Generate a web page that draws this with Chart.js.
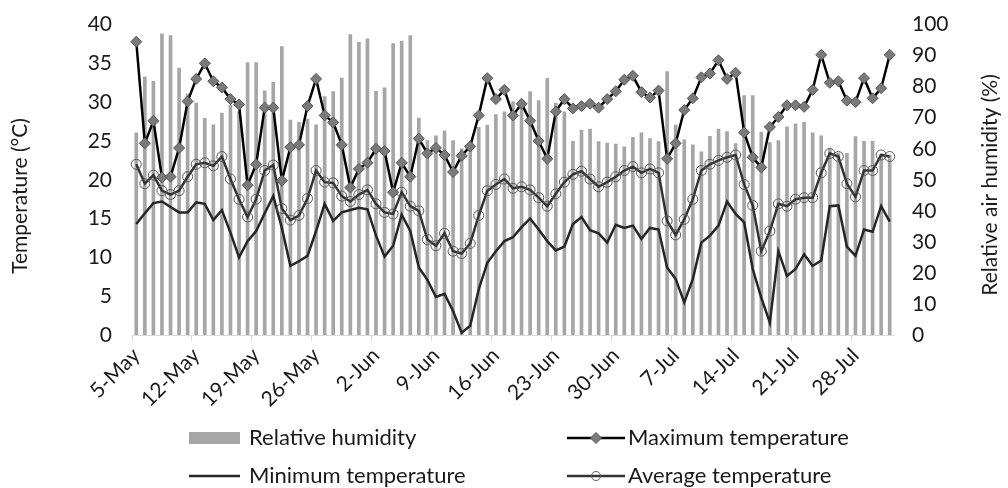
<!DOCTYPE html>
<html>
<head>
<meta charset="utf-8">
<title>Temperature and humidity</title>
<script src="https://cdn.jsdelivr.net/npm/chart.js@4/dist/chart.umd.min.js"></script>
<style>
  html, body { margin: 0; padding: 0; background: #fff; }
  #chart { display: block; }
</style>
</head>
<body>
<canvas id="chart" width="1008" height="488"></canvas>
<script>
// daily categories, 5 May - 1 Aug
const categories = [
  '5-May', '6-May', '7-May', '8-May', '9-May', '10-May', '11-May', '12-May', '13-May', '14-May',
  '15-May', '16-May', '17-May', '18-May', '19-May', '20-May', '21-May', '22-May', '23-May', '24-May',
  '25-May', '26-May', '27-May', '28-May', '29-May', '30-May', '31-May',
  '1-Jun', '2-Jun', '3-Jun', '4-Jun', '5-Jun', '6-Jun', '7-Jun', '8-Jun', '9-Jun', '10-Jun',
  '11-Jun', '12-Jun', '13-Jun', '14-Jun', '15-Jun', '16-Jun', '17-Jun', '18-Jun', '19-Jun', '20-Jun',
  '21-Jun', '22-Jun', '23-Jun', '24-Jun', '25-Jun', '26-Jun', '27-Jun', '28-Jun', '29-Jun', '30-Jun',
  '1-Jul', '2-Jul', '3-Jul', '4-Jul', '5-Jul', '6-Jul', '7-Jul', '8-Jul', '9-Jul', '10-Jul',
  '11-Jul', '12-Jul', '13-Jul', '14-Jul', '15-Jul', '16-Jul', '17-Jul', '18-Jul', '19-Jul', '20-Jul',
  '21-Jul', '22-Jul', '23-Jul', '24-Jul', '25-Jul', '26-Jul', '27-Jul', '28-Jul', '29-Jul', '30-Jul',
  '31-Jul', '1-Aug'
];

// labels shown on the x axis (weekly)
const tickLabels = ['5-May', '12-May', '19-May', '26-May', '2-Jun', '9-Jun', '16-Jun',
  '23-Jun', '30-Jun', '7-Jul', '14-Jul', '21-Jul', '28-Jul'];

// relative humidity (%)
const humidity = [
  65.1, 83.2, 81.7, 97.0, 96.5, 86.0, 77.6, 74.7, 69.8, 67.7,
  71.5, 74.0, 72.0, 87.8, 87.8, 78.7, 81.4, 92.9, 69.2, 68.5,
  69.6, 67.7, 76.8, 78.4, 82.8, 96.8, 94.3, 95.4, 78.5, 79.6,
  93.9, 94.7, 96.5, 69.9, 62.6, 64.2, 65.8, 62.6, 60.0, 62.0,
  66.9, 67.6, 71.0, 71.9, 75.2, 74.7, 78.4, 75.5, 82.7, 74.7,
  71.9, 62.4, 66.0, 66.3, 62.3, 61.8, 61.5, 60.6, 63.7, 65.1,
  63.3, 62.3, 84.9, 67.6, 62.9, 61.3, 59.0, 64.0, 66.3, 65.5,
  61.7, 77.1, 77.1, 65.4, 62.0, 62.6, 67.1, 68.0, 68.5, 65.1,
  64.2, 60.0, 58.6, 58.5, 63.9, 62.4, 62.4, 58.3, 58.0
];

// temperatures (°C)
const maxTemp = [
  37.8, 24.7, 27.6, 20.3, 20.4, 24.1, 30.1, 33.0, 35.0, 32.7,
  31.9, 30.4, 29.7, 19.3, 22.0, 29.3, 29.3, 19.9, 24.2, 24.5,
  29.5, 33.0, 28.3, 27.4, 24.5, 19.0, 21.4, 22.2, 24.0, 23.7,
  18.4, 22.2, 20.4, 25.3, 23.4, 24.1, 23.2, 21.0, 23.1, 24.3,
  28.3, 33.1, 30.4, 31.6, 28.3, 29.8, 27.6, 25.0, 22.7, 28.8,
  30.4, 29.2, 29.5, 29.8, 29.3, 30.4, 31.4, 32.9, 33.4, 31.3,
  30.6, 31.5, 22.7, 24.7, 29.0, 30.5, 33.2, 33.7, 35.4, 33.0,
  33.8, 26.1, 22.9, 21.6, 26.8, 28.1, 29.6, 29.6, 29.4, 31.6,
  36.1, 32.5, 32.7, 30.2, 30.0, 33.1, 30.5, 31.8, 36.1
];

const minTemp = [
  14.3, 15.7, 17.0, 17.2, 16.5, 15.8, 15.8, 17.1, 16.9, 14.8,
  16.1, 13.2, 10.0, 12.1, 13.4, 15.7, 17.9, 13.8, 8.9, 9.5,
  10.2, 13.4, 16.9, 14.7, 15.8, 16.1, 16.4, 16.2, 12.8, 10.1,
  11.5, 15.5, 13.4, 8.7, 7.1, 4.9, 5.3, 3.1, 0.3, 1.2,
  5.9, 9.3, 10.8, 12.1, 12.6, 13.9, 15.0, 13.6, 12.1, 10.9,
  11.4, 14.3, 15.2, 13.5, 13.1, 11.9, 14.2, 13.8, 14.1, 12.4,
  13.8, 13.6, 8.7, 7.2, 4.2, 7.2, 11.9, 12.8, 14.1, 17.2,
  15.6, 14.5, 8.5, 4.8, 1.6, 10.8, 7.6, 8.5, 10.4, 8.9,
  9.6, 16.6, 16.7, 11.4, 10.2, 13.6, 13.3, 16.6, 14.6
];

const avgTemp = [
  22.0, 19.5, 20.6, 18.6, 18.1, 18.6, 20.4, 22.0, 22.2, 21.8,
  23.0, 20.1, 17.5, 15.2, 17.5, 21.2, 21.9, 16.3, 14.8, 15.4,
  17.6, 21.2, 19.7, 19.6, 17.9, 17.2, 18.1, 18.7, 16.9, 15.8,
  15.6, 18.4, 16.6, 16.0, 12.3, 11.5, 13.1, 10.8, 10.5, 11.8,
  15.4, 18.6, 19.4, 20.1, 18.9, 19.1, 18.7, 17.7, 16.6, 18.2,
  19.7, 20.7, 21.1, 20.1, 19.1, 19.7, 20.4, 21.2, 21.7, 20.9,
  21.4, 20.9, 14.7, 12.9, 14.9, 17.5, 21.2, 22.0, 22.5, 22.9,
  23.2, 19.4, 16.7, 10.8, 13.4, 16.9, 16.6, 17.5, 17.7, 17.7,
  20.9, 23.4, 23.0, 19.5, 17.8, 21.2, 21.2, 23.2, 23.0
];

const FONT = 'Lato, "Open Sans", sans-serif';
const FONT_SIZE = 21;
const TEXT_COLOR = '#1a1a1a';

Chart.defaults.font.family = FONT;
Chart.defaults.font.size = FONT_SIZE;
Chart.defaults.color = TEXT_COLOR;

// axis titles and the 2x2 legend are drawn by hand (Excel-like layout)
const extrasPlugin = {
  id: 'extras',
  afterDraw: (chart) => {
    const ctx = chart.ctx;
    ctx.save();
    ctx.font = `${FONT_SIZE}px ${FONT}`;
    ctx.fillStyle = TEXT_COLOR;
    ctx.textAlign = 'center';
    ctx.textBaseline = 'middle';

    // left title
    ctx.save();
    ctx.translate(20, 196);
    ctx.rotate(-Math.PI / 2);
    ctx.fillText('Temperature (°C)', 0, 0);
    ctx.restore();

    // right title
    ctx.save();
    ctx.translate(990, 185);
    ctx.rotate(-Math.PI / 2);
    ctx.fillText('Relative air humidity (%)', 0, 0);
    ctx.restore();

    ctx.textAlign = 'left';
    ctx.font = `22px ${FONT}`;

    // Relative humidity
    ctx.fillStyle = '#a6a6a6';
    ctx.fillRect(189, 432, 51, 12);
    ctx.fillStyle = TEXT_COLOR;
    ctx.fillText('Relative humidity', 249, 438);

    // Maximum temperature
    ctx.strokeStyle = '#000';
    ctx.lineWidth = 2.5;
    ctx.beginPath();
    ctx.moveTo(567, 438);
    ctx.lineTo(625, 438);
    ctx.stroke();
    ctx.beginPath();
    ctx.moveTo(596 - 5.5, 438);
    ctx.lineTo(596, 432.5);
    ctx.lineTo(596 + 5.5, 438);
    ctx.lineTo(596, 443.5);
    ctx.closePath();
    ctx.fillStyle = '#7a7a7a';
    ctx.fill();
    ctx.lineWidth = 1;
    ctx.strokeStyle = '#555';
    ctx.stroke();
    ctx.fillStyle = TEXT_COLOR;
    ctx.fillText('Maximum temperature', 628, 438);

    // Minimum temperature
    ctx.strokeStyle = '#262626';
    ctx.lineWidth = 2.5;
    ctx.beginPath();
    ctx.moveTo(189, 476);
    ctx.lineTo(240, 476);
    ctx.stroke();
    ctx.fillText('Minimum temperature', 249, 476);

    // Average temperature
    ctx.strokeStyle = '#333';
    ctx.beginPath();
    ctx.moveTo(567, 476);
    ctx.lineTo(625, 476);
    ctx.stroke();
    ctx.lineWidth = 1;
    ctx.strokeStyle = '#595959';
    ctx.beginPath();
    ctx.arc(596, 476, 4.5, 0, Math.PI * 2);
    ctx.stroke();
    ctx.fillText('Average temperature', 628, 476);

    ctx.restore();
  }
};

const ctx = document.getElementById('chart').getContext('2d');

new Chart(ctx, {
  type: 'bar',
  data: {
    labels: categories,
    datasets: [
      {
        type: 'line',
        label: 'Maximum temperature',
        data: maxTemp,
        yAxisID: 'y',
        order: 1,
        borderColor: '#000',
        borderWidth: 2.5,
        tension: 0,
        pointStyle: 'rectRot',
        pointRadius: 5.5,
        pointBackgroundColor: '#7a7a7a',
        pointBorderColor: '#555',
        pointBorderWidth: 1,
      },
      {
        type: 'line',
        label: 'Average temperature',
        data: avgTemp,
        yAxisID: 'y',
        order: 2,
        borderColor: '#333',
        borderWidth: 2.5,
        tension: 0,
        pointStyle: 'circle',
        pointRadius: 5,
        pointBackgroundColor: 'rgba(0,0,0,0)',
        pointBorderColor: '#595959',
        pointBorderWidth: 1,
      },
      {
        type: 'line',
        label: 'Minimum temperature',
        data: minTemp,
        yAxisID: 'y',
        order: 3,
        borderColor: '#262626',
        borderWidth: 2.5,
        tension: 0,
        pointRadius: 0,
      },
      {
        type: 'bar',
        label: 'Relative humidity',
        data: humidity,
        yAxisID: 'y2',
        order: 10,
        backgroundColor: '#a6a6a6',
        barThickness: 3,
      },
    ],
  },
  options: {
    responsive: false,
    animation: false,
    devicePixelRatio: 1,
    layout: { padding: { top: 23, left: 0, right: 0, bottom: 0 } },
    plugins: {
      legend: { display: false },
      tooltip: { enabled: false },
    },
    scales: {
      x: {
        type: 'category',
        offset: true,
        afterFit: (scale) => { scale.height = 153; },
        border: { display: true, color: '#d9d9d9', width: 1 },
        grid: {
          offset: true,
          drawOnChartArea: false,
          drawTicks: true,
          tickLength: 6,
          color: (c) => (c.index % 7 === 0 ? '#d9d9d9' : 'rgba(0,0,0,0)'),
        },
        ticks: {
          autoSkip: false,
          maxRotation: 45,
          minRotation: 45,
          padding: 2,
          callback: (value, index) => {
            const c = categories[index];
            return tickLabels.includes(c) ? c : '';
          },
        },
      },
      y: {
        position: 'left',
        min: 0,
        max: 40,
        afterFit: (scale) => { scale.width = 132; },
        grid: { display: false },
        border: { display: false },
        ticks: { stepSize: 5, padding: 12 },
      },
      y2: {
        position: 'right',
        min: 0,
        max: 100,
        afterFit: (scale) => { scale.width = 114; },
        grid: { display: false },
        border: { display: false },
        ticks: { stepSize: 10, padding: 10 },
      },
    },
  },
  plugins: [extrasPlugin],
});
</script>
</body>
</html>
